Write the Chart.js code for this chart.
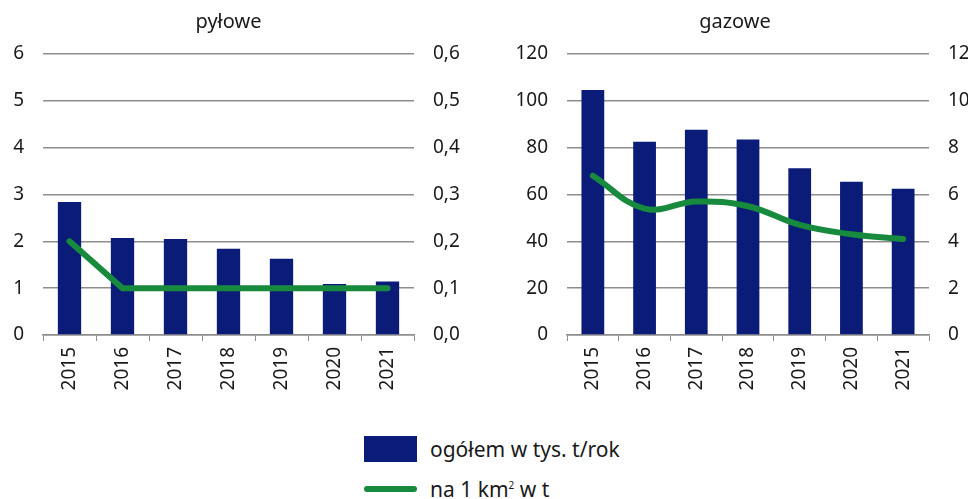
<!DOCTYPE html>
<html>
<head>
<meta charset="utf-8">
<script src="https://cdn.jsdelivr.net/npm/chart.js@4"></script>
<style>
  html, body { margin: 0; padding: 0; background: #fff; overflow: hidden; }
  body { width: 968px; height: 499px; position: relative; font-family: "Noto Sans", sans-serif; color: #1a1a1a; }
  #dustChart { position: absolute; left: 0; top: 0; }
  #gasChart { position: absolute; left: 490px; top: 0; }
  .legend { position: absolute; left: 364px; top: 0; font-size: 21px; }
  .legend .row { position: absolute; left: 0; white-space: nowrap; display: flex; align-items: center; height: 26px; }
  .legend .swatch { width: 53px; margin-right: 13px; }
  .legend sup { font-size: 10px; }
</style>
</head>
<body>
<canvas id="dustChart" width="490" height="420"></canvas>
<canvas id="gasChart" width="490" height="420"></canvas>
<div class="legend" id="legend"></div>

<script>
const years = ['2015', '2016', '2017', '2018', '2019', '2020', '2021'];

// pyłowe
const dustTotal = [2.84, 2.07, 2.05, 1.84, 1.63, 1.09, 1.14];
const dustPerKm = [0.2, 0.1, 0.1, 0.1, 0.1, 0.1, 0.1];

// gazowe
const gasTotal = [104.6, 82.5, 87.7, 83.5, 71.2, 65.4, 62.5];
const gasPerKm = [6.8, 5.4, 5.7, 5.5, 4.7, 4.3, 4.1];

const titles = ['pyłowe', 'gazowe'];
const totalLabel = 'ogółem w tys. t/rok';
const perKmLabel = 'na 1 km² w t';

const navy = '#0b1c78';
const green = '#178a3e';
const gridGray = '#8e8e8e';
const textColor = '#1a1a1a';
const font = { family: '"Noto Sans", sans-serif', size: 19 };

function makeChart(canvasId, title, totals, perKm, axes) {
  const ctx = document.getElementById(canvasId).getContext('2d');
  return new Chart(ctx, {
    type: 'bar',
    data: {
      labels: years,
      datasets: [
        {
          type: 'line',
          label: perKmLabel,
          data: perKm,
          yAxisID: 'yRight',
          borderColor: green,
          borderWidth: 6,
          borderCapStyle: 'round',
          pointRadius: 0,
          tension: axes.tension,
          order: 0,
        },
        {
          label: totalLabel,
          data: totals,
          yAxisID: 'yLeft',
          backgroundColor: navy,
          barPercentage: 0.44,
          categoryPercentage: 1,
          order: 1,
        },
      ],
    },
    options: {
      responsive: false,
      animation: false,
      layout: { padding: 0 },
      plugins: {
        legend: { display: false },
        tooltip: { enabled: false },
        title: {
          display: true,
          text: title,
          color: textColor,
          fullSize: axes.titleFullSize,
          font: { family: font.family, size: 20, weight: 'normal' },
          padding: { top: 10, bottom: 20 },
        },
      },
      scales: {
        x: {
          grid: { drawOnChartArea: false, drawTicks: true, tickLength: 6, color: gridGray },
          border: { display: true, color: gridGray, width: 1.5 },
          ticks: { color: textColor, font: font, minRotation: 90, maxRotation: 90, padding: 6 },
          afterFit: (scale) => { scale.height = 85; },
        },
        yLeft: {
          position: 'left',
          min: 0,
          max: axes.leftMax,
          ticks: { stepSize: axes.leftStep, color: textColor, font: font, padding: 19 },
          grid: { drawTicks: false, color: gridGray, lineWidth: 1.5 },
          border: { display: false },
          afterFit: (scale) => { scale.width = axes.leftWidth; },
        },
        yRight: {
          position: 'right',
          min: 0,
          max: axes.rightMax,
          ticks: {
            stepSize: axes.rightStep,
            color: textColor,
            font: font,
            padding: 19,
            callback: axes.rightFormat,
          },
          grid: { display: false, drawTicks: false },
          border: { display: false },
          afterFit: (scale) => { scale.width = axes.rightWidth; },
        },
      },
    },
  });
}

makeChart('dustChart', titles[0], dustTotal, dustPerKm, {
  leftMax: 6, leftStep: 1, rightMax: 0.6, rightStep: 0.1,
  leftWidth: 43, rightWidth: 76, tension: 0, titleFullSize: false,
  rightFormat: (v) => Number(v).toFixed(1).replace('.', ','),
});

makeChart('gasChart', titles[1], gasTotal, gasPerKm, {
  leftMax: 120, leftStep: 20, rightMax: 12, rightStep: 2,
  leftWidth: 77, rightWidth: 51, tension: 0.4, titleFullSize: true,
  rightFormat: (v) => String(v),
});

// legend built from the dataset labels
const legend = document.getElementById('legend');
legend.innerHTML =
  '<div class="row" style="top:436px"><div class="swatch" style="height:26px;background:' + navy + '"></div>' +
  '<span>' + totalLabel + '</span></div>' +
  '<div class="row" style="top:476px"><div class="swatch" style="height:6px;border-radius:3px;background:' + green + '"></div>' +
  '<span>' + perKmLabel.replace('²', '<sup>2</sup>') + '</span></div>';
</script>
</body>
</html>
